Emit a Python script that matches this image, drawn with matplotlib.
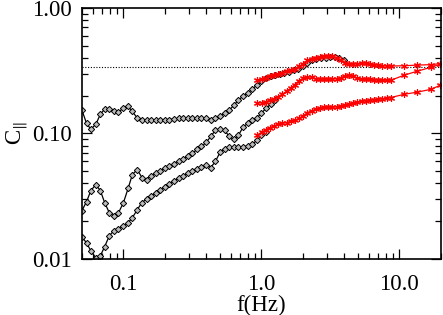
import matplotlib
matplotlib.use('Agg')
import matplotlib.pyplot as plt
from matplotlib.ticker import FixedLocator, NullFormatter

plt.rcParams['font.family'] = ['Liberation Serif', 'DejaVu Serif']
plt.rcParams['mathtext.fontset'] = 'stix'

# frequency grid shared by the black curves (Hz)
f_black = [0.050, 0.054, 0.058, 0.063, 0.068, 0.073, 0.079, 0.085, 0.092, 0.100,
           0.108, 0.116, 0.126, 0.136, 0.147, 0.158, 0.171, 0.185, 0.200, 0.215,
           0.233, 0.251, 0.271, 0.293, 0.316, 0.341, 0.368, 0.398, 0.430, 0.464,
           0.501, 0.541, 0.584, 0.631, 0.681, 0.736, 0.794, 0.858, 0.926, 1.000,
           1.08, 1.17, 1.26, 1.36, 1.47, 1.58, 1.71, 1.85, 2.00, 2.15,
           2.33, 2.51, 2.71, 2.93, 3.16, 3.41, 3.68, 3.95]

c_black1 = [0.153, 0.120, 0.108, 0.118, 0.142, 0.156, 0.156, 0.150, 0.147, 0.160,
            0.164, 0.150, 0.132, 0.127, 0.127, 0.127, 0.128, 0.129, 0.129, 0.129,
            0.130, 0.132, 0.132, 0.132, 0.132, 0.133, 0.133, 0.132, 0.129, 0.132,
            0.137, 0.145, 0.153, 0.167, 0.184, 0.198, 0.209, 0.225, 0.242, 0.260,
            0.275, 0.286, 0.291, 0.296, 0.302, 0.310, 0.319, 0.325, 0.344, 0.363,
            0.384, 0.391, 0.398, 0.402, 0.406, 0.406, 0.398, 0.384]

c_black2 = [0.0243, 0.0286, 0.0350, 0.0391, 0.0350, 0.0281, 0.0233, 0.0221, 0.0233, 0.0281,
            0.0364, 0.0470, 0.0515, 0.0445, 0.0429, 0.0461, 0.0483, 0.0506, 0.0526, 0.0550,
            0.0575, 0.0602, 0.0630, 0.0660, 0.0692, 0.0745, 0.0787, 0.0847, 0.0946, 0.106,
            0.108, 0.106, 0.0946, 0.0895, 0.0964, 0.112, 0.120, 0.127, 0.132, 0.145,
            0.158, 0.171, 0.184]

c_black3 = [0.0150, 0.0134, 0.0116, 0.0102, 0.0106, 0.0125, 0.0153, 0.0167, 0.0174, 0.0182,
            0.0194, 0.0213, 0.0247, 0.0281, 0.0300, 0.0316, 0.0334, 0.0353, 0.0373, 0.0394,
            0.0417, 0.0441, 0.0458, 0.0480, 0.0502, 0.0521, 0.0540, 0.0560, 0.0535, 0.0598,
            0.0705, 0.0752, 0.0773, 0.0773, 0.0773, 0.0780, 0.0794, 0.0817, 0.0879, 0.0964,
            0.102]

# frequency grid of the red curves (Hz)
f_red = [0.935, 1.003, 1.074, 1.152, 1.236, 1.326, 1.420, 1.523, 1.634, 1.749,
         1.876, 2.012, 2.154, 2.311, 2.479, 2.659, 2.847, 3.054, 3.276, 3.508,
         3.763, 4.037, 4.322, 4.637, 4.974, 5.335, 5.712, 6.127, 6.572, 7.036,
         7.548, 8.096, 8.685, 10.85, 13.5, 17.1, 19.8]

c_red1 = [0.265, 0.270, 0.278, 0.286, 0.294, 0.299, 0.305, 0.313, 0.319, 0.325,
          0.344, 0.356, 0.381, 0.395, 0.402, 0.406, 0.410, 0.414, 0.410, 0.398,
          0.384, 0.363, 0.356, 0.356, 0.360, 0.363, 0.363, 0.356, 0.353, 0.350,
          0.346, 0.344, 0.344, 0.346, 0.350, 0.353, 0.360]

c_red2 = [0.174, 0.176, 0.179, 0.184, 0.189, 0.196, 0.205, 0.217, 0.229, 0.245,
          0.263, 0.275, 0.281, 0.281, 0.273, 0.270, 0.270, 0.270, 0.270, 0.273,
          0.278, 0.288, 0.291, 0.286, 0.275, 0.270, 0.270, 0.270, 0.268, 0.265,
          0.265, 0.265, 0.265, 0.291, 0.313, 0.337, 0.356]

c_red3 = [0.0973, 0.102, 0.107, 0.111, 0.115, 0.118, 0.120, 0.122, 0.125, 0.127,
          0.132, 0.138, 0.146, 0.151, 0.156, 0.160, 0.161, 0.161, 0.161, 0.163,
          0.166, 0.169, 0.172, 0.175, 0.179, 0.180, 0.182, 0.184, 0.185, 0.187,
          0.189, 0.191, 0.193, 0.205, 0.213, 0.225, 0.242]

c_level = 0.34

fig = plt.figure(figsize=(4.43, 3.15), dpi=100)
ax = fig.add_axes([0.185, 0.178, 0.81, 0.797])

ax.axhline(c_level, color='k', lw=0.8, ls=(0, (1, 1.5)))

for c in (c_black1, c_black2, c_black3):
    ax.plot(f_black[:len(c)], c, color='k', lw=0.9, marker='D', ms=3.2,
            mfc='#bbbbbb', mec='k', mew=0.7)

for c in (c_red1, c_red2, c_red3):
    ax.plot(f_red, c, color='red', lw=0.9, marker=(6, 2, 0), ms=5, mec='red', mew=0.8)
    ax.plot(f_red, c, ls='none', marker='s', ms=2, mfc='red', mec='red')

ax.set_xscale('log')
ax.set_yscale('log')
ax.set_xlim(0.05, 20)
ax.set_ylim(0.01, 1.0)

ax.xaxis.set_major_locator(FixedLocator([0.1, 1.0, 10.0]))
ax.set_xticklabels(['0.1', '1.0', '10.0'])
ax.yaxis.set_major_locator(FixedLocator([0.01, 0.1, 1.0]))
ax.set_yticklabels(['0.01', '0.10', '1.00'])
ax.xaxis.set_minor_formatter(NullFormatter())
ax.yaxis.set_minor_formatter(NullFormatter())

ax.tick_params(which='both', direction='in', top=True, right=True, labelsize=16.5, width=0.9)
ax.tick_params(which='major', length=7)
ax.tick_params(which='minor', length=4)
ax.tick_params(axis='x', which='major', pad=11)
ax.tick_params(axis='y', which='major', pad=7)
for s in ax.spines.values():
    s.set_linewidth(1.2)

ax.set_xlabel('f(Hz)', fontsize=16.5, labelpad=0)
ax.set_ylabel(r'C$_{\Vert}$', fontsize=16.5, labelpad=2)

fig.savefig('out.png', dpi=100)
